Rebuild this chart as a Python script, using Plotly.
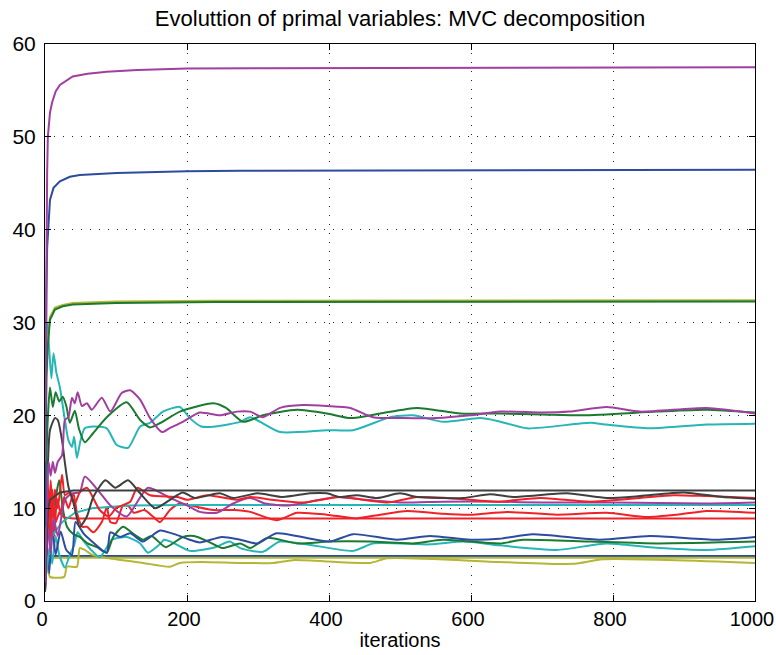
import plotly.graph_objects as go

# ---------------- data ----------------
x_mag_top = [0, 1, 2, 3, 4, 7, 10, 15, 21, 30, 39, 60, 87, 130, 200, 300, 500, 1000]
y_mag_top = [15, 30, 40, 46, 50.0, 52.6, 53.7, 54.9, 55.6, 56.1, 56.5, 56.8, 57.0, 57.2, 57.35, 57.4, 57.45, 57.5]

x_blu_top = [0, 1, 2, 3, 5, 7, 12, 21, 35, 49, 101, 200, 275, 500, 1000]
y_blu_top = [8, 25, 33, 38, 41.5, 43.2, 44.5, 45.2, 45.7, 45.9, 46.1, 46.3, 46.35, 46.4, 46.45]

x_olv_top = [0, 1, 2, 4, 7, 14, 25, 39, 100, 240, 1000]
y_olv_top = [12, 20, 25, 28, 30.6, 31.6, 31.9, 32.1, 32.25, 32.35, 32.4]

x_grn_top = [0, 1, 2, 4, 7, 14, 25, 39, 100, 240, 1000]
y_grn_top = [10, 18, 24, 27.5, 30.3, 31.4, 31.75, 31.95, 32.1, 32.2, 32.25]

x_cyn_mid = [0, 3, 6, 9, 12, 16, 21, 28, 33, 38, 41, 45, 50, 56, 68, 87, 101, 117, 134, 148, 166, 190, 204,
             220, 240, 275, 289, 331, 397, 434, 486, 518, 561, 613, 637, 679, 768, 791, 852, 932, 1000]
y_cyn_mid = [3, 30, 27, 24, 26.7, 24.6, 23, 19.5, 17.3, 16.6, 17.7, 15.4, 17.3, 18.6, 18.8, 18.6, 16.8, 16.5, 18.8,
             19.2, 20.4, 20.9, 19.7, 18.8, 18.8, 19.3, 19.8, 18.2, 18.4, 18.4, 19.8, 20.0, 19.3, 19.7, 19.4,
             18.6, 19.2, 19.0, 18.6, 19.0, 19.1]

x_grn_mid = [0, 3, 7, 11, 15, 20, 25, 30, 35, 42, 48, 56, 68, 87, 115, 134, 148, 163, 190, 237, 255, 279, 307,
             355, 397, 430, 472, 524, 585, 641, 700, 758, 862, 932, 1000]
y_grn_mid = [5, 18, 23, 20.9, 22.5, 21.5, 22, 21, 19.2, 20.5, 18.5, 17.1, 18.1, 19.8, 21.4, 19.5, 18.7, 19.2, 20.4,
             21.3, 20.8, 19.3, 20.0, 20.6, 20.2, 19.7, 20.2, 20.8, 20.2, 20.2, 20.1, 20.0, 20.4, 20.6, 20.3]

x_mag_mid = [0, 3, 5, 8, 11, 14, 18, 24, 28, 33, 38, 42, 46, 52, 59, 66, 80, 92, 108, 120, 134, 148, 165, 175,
             194, 218, 246, 270, 289, 307, 331, 363, 397, 430, 462, 504, 552, 599, 641, 700, 739, 791, 838, 932, 1000]
y_mag_mid = [2, 12, 15, 13.5, 15, 13.8, 15, 15.7, 19.5, 19.8, 21.9, 21.3, 22.5, 21, 21.3, 20.6, 21.9, 20.4, 22.4,
             22.7, 21.7, 19.7, 18.2, 18.6, 19.3, 20.3, 20.0, 20.4, 20.4, 19.8, 20.8, 21.1, 21.0, 20.8, 19.8, 19.7,
             19.7, 20.0, 20.4, 20.3, 20.4, 20.9, 20.4, 20.8, 20.2]

x_gry_osc = [0, 3, 7, 14, 18, 24, 28, 33, 40, 49, 59, 68, 85, 99, 117, 134, 155, 176, 194, 211, 246, 265, 299,
             335, 373, 397, 415, 439, 468, 500, 524, 589, 627, 659, 735, 791, 838, 899, 955, 1000]
y_gry_osc = [1, 12, 18.4, 19.7, 19.5, 17.3, 14.9, 12.3, 10.6, 8.0, 9.1, 11.2, 13.0, 12.2, 13.0, 11.6, 10.0, 10.9,
             11.7, 11.1, 11.6, 11.1, 11.6, 11.2, 11.6, 11.6, 11.2, 11.4, 11.1, 11.6, 11.2, 11.1, 11.5, 11.2, 11.6,
             11.1, 11.3, 11.7, 11.2, 11.0]

x_gry_flat = [0, 4, 7, 14, 21, 40, 1000]
y_gry_flat = [2, 9.8, 10.9, 11.3, 11.7, 11.9, 11.9]

x_red_hi = [0, 3, 5, 8, 11, 14, 18, 24, 28, 35, 42, 49, 59, 77, 90, 100, 120, 130, 148, 187, 200, 228, 246, 270,
            289, 320, 363, 415, 482, 524, 566, 637, 697, 768, 838, 885, 932, 1000]
y_red_hi = [3, 14, 8, 13, 9, 12, 10, 13.6, 11.4, 11.7, 10.5, 11.7, 12.2, 9.8, 9.1, 10.0, 10.7, 12.2, 11.4, 11.2,
            10.9, 11.4, 11.2, 10.9, 11.2, 10.9, 10.6, 11.2, 10.6, 11.2, 11.1, 10.7, 11.1, 10.7, 11.1, 11.4, 11.3, 11.1]

x_red_mid = [0, 4, 7, 10, 13, 17, 22, 27, 33, 40, 45, 52, 59, 68, 80, 87, 92, 100, 110, 118, 125, 140, 152, 162,
             176, 190, 210, 237, 265, 289, 326, 355, 397, 439, 472, 510, 561, 599, 651, 721, 791, 848, 890, 932, 1000]
y_red_mid = [2, 10, 6, 12, 7, 11, 9.5, 11.2, 10, 11.6, 9.5, 8, 8.0, 7.4, 8.5, 10.1, 8.5, 8.4, 10.3, 10.2, 9.5,
             9.8, 9.1, 8.5, 9.8, 10.5, 10.2, 9.8, 9.8, 9.6, 8.7, 9.5, 9.3, 8.9, 9.3, 9.7, 9.4, 9.3, 9.6, 9.3, 9.5,
             9.05, 9.3, 9.7, 9.5]

x_red_flat = [0, 3, 6, 10, 15, 20, 27, 40, 1000]
y_red_flat = [1, 13, 9, 12, 8.5, 9.5, 9.0, 8.9, 8.9]

x_cyn_flat = [0, 5, 10, 24, 42, 66, 119, 200, 1000]
y_cyn_flat = [2, 5, 7, 8.5, 9.5, 10.0, 10.3, 10.35, 10.35]

x_mag_low = [0, 4, 8, 12, 18, 28, 38, 49, 56, 77, 92, 115, 145, 176, 200, 218, 242, 265, 289, 310, 344, 411, 450,
             503, 560, 640, 700, 800, 932, 1000]
y_mag_low = [1, 8, 5, 9, 7, 10.9, 11.6, 11.7, 13.4, 11.7, 10.3, 9.1, 12.2, 11.1, 10.3, 9.6, 9.5, 10.5, 11.1, 10.5,
             10.3, 11.2, 10.9, 10.6, 10.7, 10.7, 10.6, 10.6, 10.5, 10.6]

x_blu_low = [0, 3, 6, 10, 15, 22, 30, 38, 43, 55, 65, 87, 92, 106, 120, 138, 162, 186, 204, 218, 249, 275, 299,
             326, 401, 434, 496, 542, 599, 640, 687, 782, 852, 946, 1000]
y_blu_low = [1.2, 6, 3, 8, 5, 7.5, 5.5, 5.0, 8.5, 7.2, 6.5, 5.2, 7.4, 6.9, 7.3, 6.4, 7.6, 7.1, 6.6, 6.3, 6.9, 6.6,
             6.2, 7.3, 6.4, 7.2, 6.6, 7.0, 6.6, 6.7, 7.2, 6.6, 7.0, 6.6, 6.9]

x_grn_low = [0, 5, 10, 15, 20, 25, 31, 40, 49, 60, 73, 87, 96, 110, 125, 138, 150, 170, 194, 210, 230, 250, 275,
             289, 313, 355, 400, 458, 518, 560, 641, 673, 768, 862, 1000]
y_grn_low = [1, 12, 7, 11, 13, 10, 8.0, 7.2, 6.9, 6.2, 5.8, 5.2, 6.9, 8.0, 7.2, 6.6, 7.0, 5.8, 6.9, 7.0, 6.4, 5.7,
             6.2, 5.7, 6.8, 6.2, 6.4, 6.4, 6.2, 6.6, 6.2, 6.6, 6.4, 6.2, 6.4]

x_cyn_low = [0, 5, 10, 15, 20, 28, 35, 41, 46, 54, 65, 77, 85, 94, 115, 134, 145, 160, 168, 177, 204, 240, 260,
             275, 307, 331, 434, 462, 542, 590, 640, 721, 791, 852, 932, 1000]
y_cyn_low = [3, 8, 4, 7, 5, 3.6, 5, 6.0, 7.4, 6.5, 5.5, 4.7, 5.5, 6.6, 6.9, 6.2, 5.2, 6.0, 6.6, 6.4, 5.4, 5.8, 6.4,
             5.7, 5.3, 6.4, 5.4, 6.2, 6.1, 6.4, 6.0, 5.5, 6.2, 5.8, 5.5, 5.9]

x_blu_flat = [0, 3, 1000]
y_blu_flat = [1, 4.85, 4.85]

x_olv_flat = [0, 4, 8, 20, 1000]
y_olv_flat = [3.5, 4.3, 4.6, 4.65, 4.65]

x_olv_low = [0, 3, 7, 27, 31, 45, 49, 56, 66, 90, 138, 176, 190, 220, 275, 321, 349, 458, 482, 641, 744, 786, 1000]
y_olv_low = [3.9, 3.9, 2.6, 2.6, 3.7, 3.7, 5.7, 5.5, 5.0, 4.6, 4.1, 3.7, 4.1, 4.2, 4.1, 4.1, 4.4, 4.1, 4.6, 4.2,
             4.0, 4.5, 4.1]

x_ticks = [0, 200, 400, 600, 800, 1000]
y_ticks = [0, 10, 20, 30, 40, 50, 60]

MAG, BLU, GRN, OLV = '#A03FA0', '#2D4CA0', '#1A7A30', '#B4B634'
CYN, RED, GRY = '#27B6B6', '#EE2228', '#3F3F3F'

series = [
    (x_blu_flat, y_blu_flat, BLU, 'linear'),
    (x_olv_flat, y_olv_flat, OLV, 'linear'),
    (x_olv_low, y_olv_low, OLV, 'spline'),
    (x_cyn_low, y_cyn_low, CYN, 'spline'),
    (x_grn_low, y_grn_low, GRN, 'spline'),
    (x_blu_low, y_blu_low, BLU, 'spline'),
    (x_red_flat, y_red_flat, RED, 'linear'),
    (x_red_mid, y_red_mid, RED, 'spline'),
    (x_cyn_flat, y_cyn_flat, CYN, 'linear'),
    (x_mag_low, y_mag_low, MAG, 'spline'),
    (x_red_hi, y_red_hi, RED, 'spline'),
    (x_gry_osc, y_gry_osc, GRY, 'spline'),
    (x_gry_flat, y_gry_flat, GRY, 'linear'),
    (x_cyn_mid, y_cyn_mid, CYN, 'spline'),
    (x_grn_mid, y_grn_mid, GRN, 'spline'),
    (x_mag_mid, y_mag_mid, MAG, 'spline'),
    (x_olv_top, y_olv_top, OLV, 'linear'),
    (x_grn_top, y_grn_top, GRN, 'linear'),
    (x_blu_top, y_blu_top, BLU, 'linear'),
    (x_mag_top, y_mag_top, MAG, 'linear'),
]

fig = go.Figure()
for xs, ys, col, shape in series:
    line = dict(color=col, width=2, shape=shape)
    if shape == 'spline':
        line['smoothing'] = 0.6
    fig.add_trace(go.Scatter(x=xs, y=ys, mode='lines', line=line, showlegend=False, hoverinfo='skip'))

FONT = 'Liberation Sans, Arial, Helvetica, sans-serif'
axis_common = dict(
    showline=True, linecolor='black', linewidth=1, mirror='allticks',
    ticks='inside', ticklen=6, tickcolor='black', tickwidth=1,
    showgrid=True, gridcolor='#222222', gridwidth=1, griddash='1px,8px',
    zeroline=False, ticklabeloverflow='allow',
)

fig.update_layout(
    width=776, height=655,
    margin=dict(l=45, r=21, t=44, b=54, autoexpand=False),
    paper_bgcolor='white', plot_bgcolor='white',
    font=dict(family=FONT, color='black'),
    title=dict(text='Evoluttion of primal variables: MVC decomposition',
               x=0.5, xref='paper', xanchor='center', y=1 - 18 / 655, yref='container', yanchor='middle',
               font=dict(family=FONT, size=22, color='black')),
    xaxis=dict(range=[0, 1000], tickvals=x_ticks, ticktext=[str(v) for v in x_ticks],
               tickfont=dict(family=FONT, size=20, color='black'), ticklabelshift=-3,
               title=dict(text='iterations', font=dict(family=FONT, size=20, color='black'), standoff=3),
               automargin=False, **axis_common),
    yaxis=dict(range=[0, 60], tickvals=y_ticks, ticktext=[str(v) for v in y_ticks],
               tickfont=dict(family=FONT, size=21, color='black'),
               ticklabelstandoff=4, automargin=False, **axis_common),
)

fig.write_html('out.html')
